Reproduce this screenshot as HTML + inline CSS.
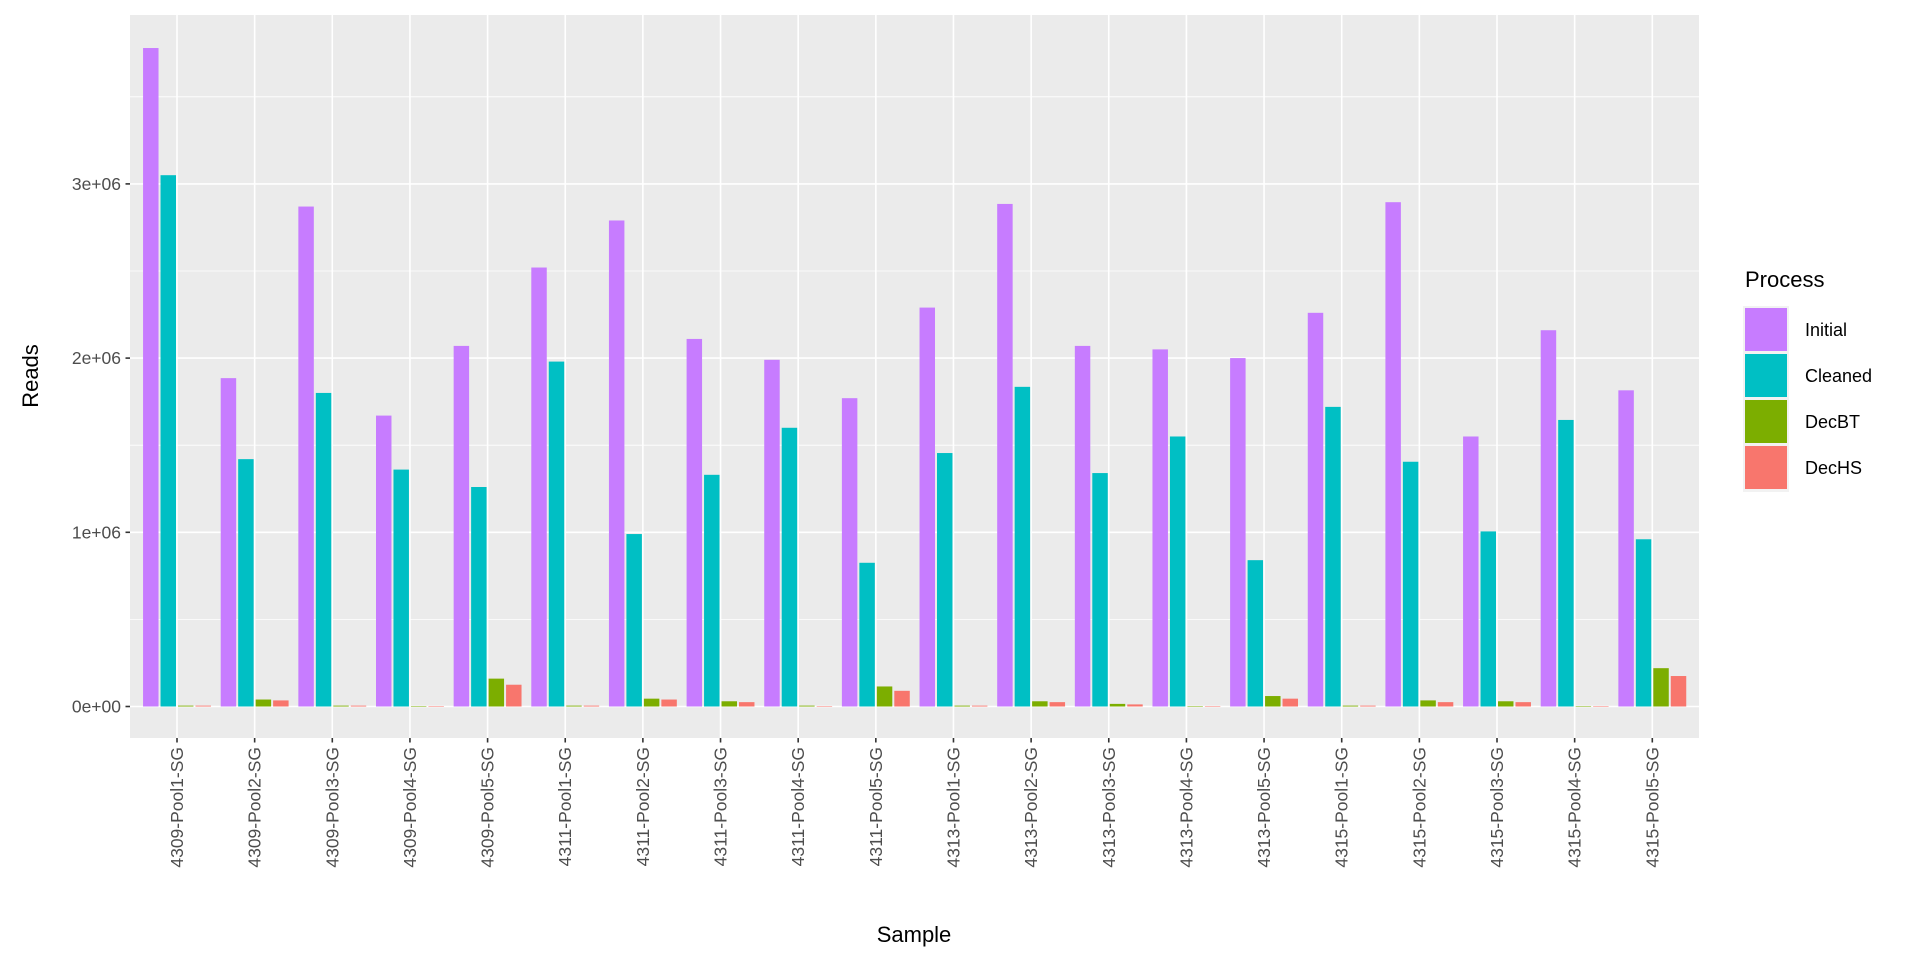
<!DOCTYPE html>
<html><head><meta charset="utf-8"><style>
html,body{margin:0;padding:0;background:#fff;}
svg{display:block;font-family:"Liberation Sans",sans-serif;}
</style></head><body>
<svg id="chart" width="1920" height="960" viewBox="0 0 1920 960" xmlns="http://www.w3.org/2000/svg">
<rect x="130" y="15" width="1569" height="723" fill="#EBEBEB"/>
<g id="grid"></g><g id="bars"></g><g id="axes"></g>
<text transform="translate(38,376) rotate(-90)" text-anchor="middle" font-size="22" fill="#000">Reads</text>
<text x="914" y="942" text-anchor="middle" font-size="22" fill="#000">Sample</text>
<g>
<text x="1745" y="287" font-size="22" fill="#000">Process</text>
<rect x="1743" y="306" width="46" height="186" fill="#F2F2F2"/>
<g id="legend-items"></g>
</g>
</svg>
<script>
const samples=["4309-Pool1-SG","4309-Pool2-SG","4309-Pool3-SG","4309-Pool4-SG","4309-Pool5-SG","4311-Pool1-SG","4311-Pool2-SG","4311-Pool3-SG","4311-Pool4-SG","4311-Pool5-SG","4313-Pool1-SG","4313-Pool2-SG","4313-Pool3-SG","4313-Pool4-SG","4313-Pool5-SG","4315-Pool1-SG","4315-Pool2-SG","4315-Pool3-SG","4315-Pool4-SG","4315-Pool5-SG"];
const initial=[3780000,1885000,2870000,1670000,2070000,2520000,2790000,2110000,1990000,1770000,2290000,2885000,2070000,2050000,2000000,2260000,2895000,1550000,2160000,1815000];
const cleaned=[3050000,1420000,1800000,1360000,1260000,1980000,990000,1330000,1600000,825000,1455000,1835000,1340000,1550000,840000,1720000,1405000,1005000,1645000,960000];
const decBT=[5000,40000,5000,2000,160000,5000,45000,30000,5000,115000,5000,30000,15000,2000,60000,5000,35000,30000,2000,220000];
const decHS=[5000,35000,5000,2000,125000,5000,40000,25000,2000,90000,5000,25000,12000,2000,45000,5000,25000,25000,2000,175000];
const seriesNames=["Initial","Cleaned","DecBT","DecHS"];
const yTicks=[0,1000000,2000000,3000000];
const yTickLabels=["0e+00","1e+06","2e+06","3e+06"];
const colors=["#C77CFF","#00BFC4","#7CAE00","#F8766D"];
const series=[initial,cleaned,decBT,decHS];
const NS="http://www.w3.org/2000/svg";
const PL=130,PR=1699,PT=15,PB=738;
const y0=706.5,pxPerUnit=174.2/1e6;
function yScale(v){return y0-v*pxPerUnit;}
const step=(1652.3-177)/(samples.length-1);
function xScale(i){return 177+i*step;}
function mk(tag,attrs,parent){const e=document.createElementNS(NS,tag);for(const k in attrs)e.setAttribute(k,attrs[k]);parent.appendChild(e);return e;}
const grid=document.getElementById('grid'),bars=document.getElementById('bars'),axes=document.getElementById('axes');
// minor grid
for(let k=0;k<yTicks.length;k++){
  const mv=yTicks[k]+500000;const y=yScale(mv);
  if(y>PT){const l=mk('line',{x1:PL,x2:PR,y1:y,y2:y,stroke:'#fff','stroke-width':0.8},grid);
  
  }
}
yTicks.forEach((v,k)=>{
  const y=yScale(v);
  const l=mk('line',{x1:PL,x2:PR,y1:y,y2:y,stroke:'#fff','stroke-width':1.6},grid);
  
  
  const t=mk('line',{x1:PL-4.5,x2:PL,y1:y,y2:y,stroke:'#333','stroke-width':1.6},axes);
  
  
  const tx=mk('text',{x:PL-9,y:y+6,'text-anchor':'end','font-size':17.5,fill:'#4D4D4D'},axes);
  
  
  tx.textContent=yTickLabels[k];
});
const slot=step*0.9/4;
samples.forEach((s,i)=>{
  const cx=xScale(i);
  const l=mk('line',{x1:cx,x2:cx,y1:PT,y2:PB,stroke:'#fff','stroke-width':1.6},grid);
  
  
  const t=mk('line',{x1:cx,x2:cx,y1:PB,y2:PB+4.5,stroke:'#333','stroke-width':1.6},axes);
  
  
  const tx=mk('text',{transform:`translate(${cx+6},${PB+9}) rotate(-90)`,'text-anchor':'end','font-size':17.5,fill:'#4D4D4D'},axes);
  
  
  tx.textContent=s;
  series.forEach((arr,j)=>{
    const x=cx-2*slot+j*slot;
    const yt=yScale(arr[i]),yb=yScale(0);
    const r=mk('rect',{x:x+1,width:slot-2,y:yt,height:Math.max(0.5,yb-yt),fill:colors[j]},bars);
    
    
  });
});
const li=document.getElementById('legend-items');
seriesNames.forEach((n,j)=>{
  const y=308+j*46;
  const r=mk('rect',{x:1745,y:y,width:42,height:43,fill:colors[j]},li);
  
  
  const t=mk('text',{x:1805,y:y+28,'font-size':18,fill:'#000'},li);
  
  
  t.textContent=n;
});
</script>
</body></html>
